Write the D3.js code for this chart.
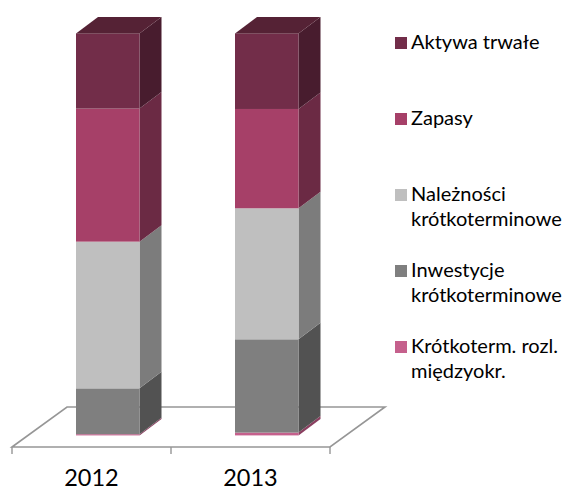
<!DOCTYPE html>
<html><head><meta charset="utf-8">
<script src="https://cdn.jsdelivr.net/npm/d3@7/dist/d3.min.js"></script>
<style>html,body{margin:0;padding:0;background:#fff}svg{display:block}</style>
</head><body><svg id="c" width="565" height="491"></svg>
<script>
const categories=["2012","2013"];
const seriesNames=["Krótkoterm. rozl. międzyokr.","Inwestycje krótkoterminowe","Należności krótkoterminowe","Zapasy","Aktywa trwałe"];
const rozliczenia=[0.3,0.7];
const inwestycje=[11.4,23.2];
const naleznosci=[36.5,32.6];
const zapasy=[33.1,24.7];
const aktywa=[18.7,18.8];
const frontColors=["#c5608c","#7f7f7f","#bfbfbf","#a64068","#722d49"];
const sideColors=["#8a3f60","#525252","#7c7c7c","#6b2a44","#481c2e"];
const topColor="#552235";
const legendLines=[["Aktywa trwałe"],["Zapasy"],["Należności","krótkoterminowe"],["Inwestycje","krótkoterminowe"],["Krótkoterm. rozl.","międzyokr."]];
const legendColors=["#722d49","#a64068","#bfbfbf","#7f7f7f","#c5608c"];

const font="Lato, 'Open Sans', sans-serif";
const svg=d3.select("#c");
const values=[rozliczenia,inwestycje,naleznosci,zapasy,aktywa];
const x=d3.scaleBand().domain(categories).range([12,330]);
const y=d3.scaleLinear().domain([0,100]).range([435.4,33.4]);
const barW=63.5,dx=22,dy=16.5,shift=16.25;
const floorY=447,floorBackY=407,floorDx=55,col="#969696";

svg.append("path").attr("fill","none").attr("stroke",col).attr("stroke-width",1.6)
 .attr("d",`M12,${floorY}L${12+floorDx},${floorBackY}H${330+floorDx}L330,${floorY}Z`);
const ticks=[...categories.map(c=>x(c)),330];
svg.selectAll(".t").data(ticks).join("line").attr("x1",d=>d).attr("x2",d=>d)
 .attr("y1",floorY).attr("y2",454).attr("stroke",col).attr("stroke-width",1.4);

categories.forEach((c,i)=>{
  const x0=x(c)+(x.bandwidth()-barW)/2+shift,x1=x0+barW;
  let cum=0;
  values.forEach((arr,s)=>{
    const yb=y(cum),yt=y(cum+arr[i]);cum+=arr[i];
    svg.append("path").attr("fill",sideColors[s])
      .attr("d",`M${x1},${yb}L${x1+dx},${yb-dy}V${yt-dy}L${x1},${yt}Z`);
    svg.append("rect").attr("x",x0).attr("y",yt).attr("width",barW).attr("height",yb-yt).attr("fill",frontColors[s]);
    if(s===values.length-1){
      svg.append("path").attr("fill",topColor)
        .attr("d",`M${x0},${yt}L${x0+dx},${yt-dy}H${x1+dx}L${x1},${yt}Z`);
    }
  });
  svg.append("text").attr("x",x(c)+x.bandwidth()/2).attr("y",486)
    .attr("text-anchor","middle").attr("font-family",font).attr("font-size",23.5).attr("fill","#000").text(c);
});

legendLines.forEach((lines,i)=>{
  const yy=37+i*76;
  svg.append("rect").attr("x",395).attr("y",yy).attr("width",12).attr("height",12).attr("fill",legendColors[i]);
  lines.forEach((t,j)=>{
    svg.append("text").attr("x",411).attr("y",yy+12+j*25)
      .attr("font-family",font).attr("font-size",20).attr("fill","#000").text(t);
  });
});
</script></body></html>
